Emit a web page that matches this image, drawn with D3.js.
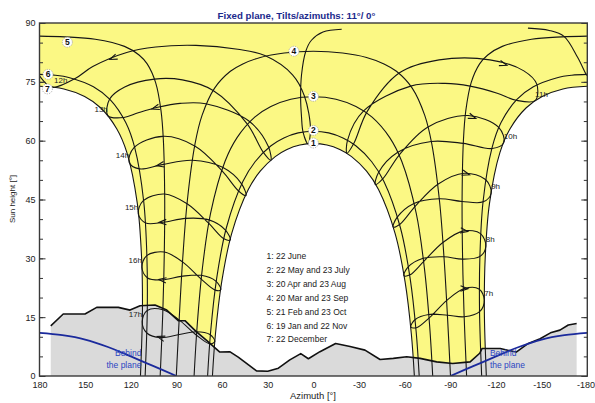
<!DOCTYPE html>
<html>
<head>
<meta charset="utf-8">
<script src="https://cdn.jsdelivr.net/npm/d3@7"></script>
<style>
  html, body { margin: 0; padding: 0; background: #fff; }
  svg { display: block; }
</style>
</head>
<body>
<svg id="chart" width="595" height="403"></svg>
<script>
// ---- Axis ticks ----
const azTicks = [180, 150, 120, 90, 60, 30, 0, -30, -60, -90, -120, -150, -180];
const heightTicks = [0, 15, 30, 45, 60, 75, 90];
const heightMinorTicks = [0, 5, 10, 15, 20, 25, 30, 35, 40, 45, 50, 55, 60, 65, 70, 75, 80, 85, 90];

// ---- Date curves: [azimuth, sun height] ----
const curve1 = [[-66.35,0],[-64.38,10.65],[-60.31,23.86],[-53.67,36.37],[-42.79,47.53],[-34.95,52.21],[-25.09,55.94],[-17.37,57.75],[-8.9,58.88],[0,59.25],[8.9,58.88],[17.37,57.75],[25.09,55.94],[34.95,52.21],[42.79,47.53],[53.67,36.37],[60.31,23.86],[64.38,10.65],[66.35,0]];
const curve2 = [[-69.53,0],[-67.52,11.34],[-63.57,24.9],[-57.14,37.86],[-46.36,49.59],[-38.32,54.63],[-27.86,58.71],[-19.43,60.69],[-10.02,61.98],[0,62.4],[10.02,61.98],[19.43,60.69],[27.86,58.71],[38.32,54.63],[46.36,49.59],[57.14,37.86],[63.57,24.9],[67.52,11.34],[69.53,0]];
const curve3 = [[-78.41,0],[-76.34,13.08],[-72.96,27.43],[-67.59,41.45],[-58.05,54.74],[-50.17,60.78],[-38.56,66.0],[-27.96,68.71],[-14.86,70.57],[0,71.2],[14.86,70.57],[27.96,68.71],[38.56,66.0],[50.17,60.78],[58.05,54.74],[67.59,41.45],[72.96,27.43],[76.34,13.08],[78.41,0]];
const curve4 = [[-90.1,0],[-88.15,14.89],[-85.91,29.75],[-82.89,44.56],[-77.77,59.23],[-73.18,66.44],[-64.93,73.4],[-54.57,77.69],[-46.4,79.57],[-34.92,81.22],[-19.19,82.35],[0,82.79],[19.19,82.35],[34.92,81.22],[46.4,79.57],[54.57,77.69],[64.93,73.4],[73.18,66.44],[77.77,59.23],[82.89,44.56],[85.91,29.75],[88.15,14.89],[90.1,0]];
const curve5West = [[180,86.65],[163.37,86.47],[143.37,85.87],[124.14,84.04],[114.58,81.85],[109.23,79.57],[103.68,74.8],[100.11,67.53],[98.6,60.19],[97.72,45.46],[98.02,30.72],[98.99,16.0],[100.69,0]];
const curve5East = [[-180,86.65],[-163.37,86.47],[-143.37,85.87],[-124.14,84.04],[-114.58,81.85],[-109.23,79.57],[-103.68,74.8],[-100.11,67.53],[-98.6,60.19],[-97.72,45.46],[-98.02,30.72],[-98.99,16.0],[-100.69,0]];
const curve6West = [[180,76.9],[169.78,76.68],[160.22,76.05],[144.55,73.73],[133.57,70.44],[123.32,64.6],[117.38,58.15],[111.53,44.57],[109.43,30.61],[109.18,16.55],[110.58,0]];
const curve6East = [[-180,76.9],[-169.78,76.68],[-160.22,76.05],[-144.55,73.73],[-133.57,70.44],[-123.32,64.6],[-117.38,58.15],[-111.53,44.57],[-109.43,30.61],[-109.18,16.55],[-110.58,0]];
const curve7West = [[180,73.86],[163.97,73.18],[150.34,71.25],[139.89,68.39],[129.26,63.05],[122.61,57.01],[115.7,43.96],[112.94,30.38],[112.35,16.62],[113.65,0]];
const curve7East = [[-180,73.86],[-163.97,73.18],[-150.34,71.25],[-139.89,68.39],[-129.26,63.05],[-122.61,57.01],[-115.7,43.96],[-112.94,30.38],[-112.35,16.62],[-113.65,0]];

// ---- Hour lines (analemmas), one point per reference date, Dec -> Nov ----
const hour07 = [[-112.3,19.4],[-109.2,16.4],[-99.1,15.1],[-88.1,15.5],[-75.8,15.7],[-66.9,14.4],[-64.0,12.5],[-67.7,12.3],[-76.3,14.9],[-87.7,19.3],[-99.2,22.3],[-108.8,22.2]];
const hour08 = [[-113.3,33.1],[-109.5,30.5],[-98.1,29.8],[-85.8,30.4],[-72.1,30.0],[-62.3,27.8],[-59.5,25.6],[-63.5,25.8],[-72.7,29.3],[-85.3,34.1],[-98.7,37.0],[-109.8,36.3]];
const hour09 = [[-116.8,46.6],[-111.6,44.4],[-97.7,44.5],[-82.7,45.2],[-66.1,44.0],[-55.1,40.5],[-52.4,38.0],[-56.9,38.7],[-67.0,43.3],[-81.8,48.9],[-99.1,51.7],[-113.1,50.1]];
const hour10 = [[-125.1,59.5],[-117.5,58.0],[-98.5,59.3],[-77.4,59.8],[-55.2,57.0],[-42.8,51.9],[-40.7,48.8],[-45.7,50.3],[-56.5,56.4],[-75.3,63.5],[-101.7,66.4],[-121.8,63.4]];
const hour11 = [[-145.7,70.2],[-133.3,70.3],[-120.8,72.1],[-103.0,73.9],[-86.5,74.6],[-63.9,73.9],[-33.0,67.6],[-22.4,60.1],[-22.1,56.8],[-26.7,59.4],[-35.3,67.4],[-56.6,77.3],[-82.6,80.6],[-116.0,80.6],[-138.3,77.8],[-146.8,74.4]];
const hour12West = [[-18.6,88.4],[-6.3,87.7],[1.3,85.6],[5.0,82.8],[7.8,76.8],[8.4,71.0],[7.8,66.0],[6.8,62.2],[3.6,59.2],[1.9,62.7],[5.9,71.4],[13.7,76.8],[31.9,81.7],[49.7,83.3],[77.2,84.3],[103.6,83.9],[122.7,82.5],[145.0,78.9],[156.3,75.9],[170.4,73.6],[174.6,74.2],[177.5,75.3],[180,76.5]];
const hour12East = [[-180,76.6],[-179.3,76.9],[-173.7,81.2],[-164.7,86.6],[-155.0,88.1],[-141.0,88.7]];
const hour13 = [[135.1,66.4],[133.9,70.6],[124.0,73.7],[104.4,75.7],[86.1,75.5],[65.9,72.8],[43.4,64.2],[32.9,57.0],[28.0,55.0],[29.6,58.5],[42.4,65.0],[70.7,69.4],[87.6,69.5],[102.3,68.5],[115.1,67.1],[124.5,65.9]];
const hour14 = [[121.1,54.5],[117.9,58.2],[98.9,61.1],[77.7,58.6],[60.0,52.3],[49.0,47.1],[44.3,46.0],[47.2,49.0],[59.7,53.2],[79.6,55.0],[99.3,53.9],[114.3,52.8]];
const hour15 = [[115.1,41.3],[111.8,44.7],[97.8,46.4],[83.0,43.9],[68.7,38.9],[58.8,35.0],[54.6,34.7],[57.8,37.2],[68.6,39.8],[84.0,40.2],[98.7,39.2],[110.2,39.0]];
const hour16 = [[112.7,27.7],[109.5,30.7],[98.0,31.6],[86.0,29.1],[73.7,24.7],[64.5,21.9],[60.9,22.0],[64.1,24.2],[73.8,25.7],[86.7,25.4],[99.2,24.5],[109.0,25.0]];
const hour17 = [[112.5,13.9],[109.2,16.7],[98.9,16.9],[88.3,14.3],[76.8,10.4],[68.1,8.2],[64.8,8.8],[68.0,10.6],[77.0,11.3],[88.9,10.5],[100.3,9.8],[109.3,10.9]];

// ---- Far horizon profile ----
const horizonAz = [172.6,164.4,150.1,142.4,128.2,120.5,113.9,104.1,96.4,88.8,84.4,77.0,70.2,61.5,55.0,49.4,37.4,30.0,23.0,15.5,8.3,3.3,-4.3,-14.6,-24.1,-33.9,-43.8,-52.5,-61.3,-70.1,-81.0,-91.5,-103.0,-109.3,-110.8,-122.8,-133.3,-141.2,-149.0,-155.8,-162.0,-167.5,-173.0];
const horizonH  = [12.8,15.8,15.8,17.5,17.5,16.8,17.9,18.1,16.8,14.1,14.1,11.3,9.1,6.1,6.2,4.8,1.3,1.2,2.0,4.1,5.7,4.4,6.2,8.3,7.5,6.6,4.2,4.5,4.9,4.5,3.6,3.2,3.6,5.8,7.0,7.0,6.1,8.3,9.5,11.0,11.7,13.0,13.4];

// ---- Plane limit (sun behind the tilted plane) ----
const planeWest = [[180,11.0],[165,10.4],[150,9.3],[135,7.4],[120,5.0],[105,2.5],[90,0]];
const planeEast = [[-90,0],[-105,2.5],[-120,5.0],[-135,7.4],[-150,9.3],[-165,10.4],[-180,11.0]];

// ---- Labels ----
const dateNumbers = ["1","2","3","4","5","6","7"];
const dateLabelAz = [0, 0, 0, 12.8, 161.7, 174.4, 174.8];
const dateLabelH  = [59.4, 62.6, 71.3, 82.8, 85.1, 76.9, 73.2];
const dateNames = ["1: 22 June", "2: 22 May and 23 July", "3: 20 Apr and 23 Aug", "4: 20 Mar and 23 Sep", "5: 21 Feb and 23 Oct", "6: 19 Jan and 22 Nov", "7: 22 December"];

// ---------------------------------------------------------------
const FONT = "'Liberation Sans', Arial, Helvetica, sans-serif";
const X0 = 39.5, X1 = 587.3, Y0 = 23, Y1 = 376;
const x = d3.scaleLinear().domain([180, -180]).range([X0, X1]);
const y = d3.scaleLinear().domain([0, 90]).range([Y1, Y0]);

const svg = d3.select("#chart");
svg.append("rect").attr("width", 595).attr("height", 403).attr("fill", "#fff");

svg.append("defs").append("clipPath").attr("id", "plotArea")
  .append("rect").attr("x", X0).attr("y", Y0).attr("width", X1 - X0).attr("height", Y1 - Y0);

const plot = svg.append("g").attr("clip-path", "url(#plotArea)");

const smooth = d3.line().x(d => x(d[0])).y(d => y(d[1])).curve(d3.curveCatmullRom.alpha(0.5));
const smoothLoop = d3.line().x(d => x(d[0])).y(d => y(d[1])).curve(d3.curveCatmullRomClosed.alpha(0.5));
const straight = d3.line().x(d => x(d[0])).y(d => y(d[1]));

// Yearly sun band: above the 22 Dec path and outside the 22 June path
const cont = pts => smooth(pts).replace(/^M/, "L");
const bandPath = "M" + x(180) + "," + y(90)
  + cont(curve7West)
  + cont(curve1.slice().reverse())
  + cont(curve7East.slice().reverse())
  + "L" + x(-180) + "," + y(90) + "Z";
plot.append("path").attr("d", bandPath).attr("fill", "#fbf884").attr("stroke", "none");

// Horizon mask
const horizonPts = horizonAz.map((a, i) => [a, horizonH[i]]);
const maskPts = [[horizonAz[0], 0]].concat(horizonPts, [[horizonAz[horizonAz.length - 1], 0]]);
plot.append("path").attr("d", straight(maskPts) + "Z").attr("fill", "#dadada").attr("stroke", "none");

// Date curves
const dateCurves = [curve1, curve2, curve3, curve4, curve5West, curve5East, curve6West, curve6East, curve7West, curve7East];
plot.selectAll("path.date").data(dateCurves).join("path")
  .attr("class", "date")
  .attr("d", smooth)
  .attr("fill", "none").attr("stroke", "#161616").attr("stroke-width", 1.1);

// Hour lines
const hourSeries = [
  { name: "7h",  pts: hour07, closed: true, arrowIdx: 10, arrowT: 0.25, labelIdx: 0, anchor: "start" },
  { name: "8h",  pts: hour08, closed: true, arrowIdx: 10, arrowT: 0.25, labelIdx: 0, anchor: "start" },
  { name: "9h",  pts: hour09, closed: true, arrowIdx: 10, arrowT: 0.25, labelIdx: 0, anchor: "start" },
  { name: "10h", pts: hour10, closed: true, arrowIdx: 10, arrowT: 0.25, labelIdx: 0, anchor: "start" },
  { name: "11h", pts: hour11, closed: true, arrowIdx: 13, arrowT: 0.5,  labelIdx: 0, anchor: "start" },
  { name: "12h", pts: hour12West, closed: false, arrowIdx: 16, arrowT: 0.5, labelIdx: 19, anchor: "start" },
  { name: "13h", pts: hour13, closed: true, arrowIdx: 13, arrowT: 0.3,  labelIdx: 0, anchor: "end" },
  { name: "14h", pts: hour14, closed: true, arrowIdx: 10, arrowT: 0.25, labelIdx: 0, anchor: "end" },
  { name: "15h", pts: hour15, closed: true, arrowIdx: 10, arrowT: 0.25, labelIdx: 0, anchor: "end" },
  { name: "16h", pts: hour16, closed: true, arrowIdx: 10, arrowT: 0.25, labelIdx: 0, anchor: "end" },
  { name: "17h", pts: hour17, closed: true, arrowIdx: 10, arrowT: 0.25, labelIdx: 0, anchor: "end" }
];

plot.selectAll("path.hour").data(hourSeries).join("path")
  .attr("class", "hour")
  .attr("d", s => s.closed ? smoothLoop(s.pts) : smooth(s.pts))
  .attr("fill", "none").attr("stroke", "#161616").attr("stroke-width", 1.1);
plot.append("path").attr("d", smooth(hour12East))
  .attr("fill", "none").attr("stroke", "#161616").attr("stroke-width", 1.1);

// Direction arrows along the hour lines
function arrowPath(s) {
  const n = s.pts.length;
  const a = s.pts[s.arrowIdx], b = s.pts[(s.arrowIdx + 1) % n];
  const ax = x(a[0]), ay = y(a[1]), bx = x(b[0]), by = y(b[1]);
  const px = ax + s.arrowT * (bx - ax), py = ay + s.arrowT * (by - ay);
  const len = Math.hypot(bx - ax, by - ay);
  const ux = (bx - ax) / len, uy = (by - ay) / len;
  const L = 8, ang = 20 * Math.PI / 180, c = Math.cos(ang), sn = Math.sin(ang);
  const b1 = [px - L * (ux * c - uy * sn), py - L * (uy * c + ux * sn)];
  const b2 = [px - L * (ux * c + uy * sn), py - L * (uy * c - ux * sn)];
  return `M${b1[0]},${b1[1]}L${px},${py}L${b2[0]},${b2[1]}`;
}
plot.selectAll("path.arrow").data(hourSeries).join("path")
  .attr("class", "arrow")
  .attr("d", arrowPath)
  .attr("fill", "none").attr("stroke", "#161616").attr("stroke-width", 1.1);

// Horizon line
plot.append("path").attr("d", straight(horizonPts))
  .attr("fill", "none").attr("stroke", "#111").attr("stroke-width", 1.6).attr("stroke-linejoin", "round");

// Plane limit
[planeWest, planeEast].forEach(p => {
  plot.append("path").attr("d", smooth(p))
    .attr("fill", "none").attr("stroke", "#1b2a9c").attr("stroke-width", 1.8);
});

// Hour labels, next to the 22 December point of each hour line
svg.append("g").selectAll("text").data(hourSeries).join("text")
  .attr("x", s => x(s.pts[s.labelIdx][0]))
  .attr("y", s => y(s.pts[s.labelIdx][1]) - 4)
  .attr("text-anchor", s => s.anchor)
  .attr("font-family", FONT).attr("font-size", 8).attr("fill", "#222")
  .text(s => s.name);

// Date curve markers
const marks = svg.append("g");
dateNumbers.forEach((t, i) => {
  const cx = x(dateLabelAz[i]), cy = y(dateLabelH[i]);
  marks.append("circle").attr("cx", cx).attr("cy", cy).attr("r", 5)
    .attr("fill", "#fff").attr("stroke", "#9a9a9a").attr("stroke-width", 0.8).attr("stroke-dasharray", "1.2,1.2");
  marks.append("text").attr("x", cx).attr("y", cy + 3).attr("text-anchor", "middle")
    .attr("font-family", FONT).attr("font-size", 8.5).attr("font-weight", "bold").attr("fill", "#111")
    .text(t);
});

// Legend of dates
svg.append("g").selectAll("text").data(dateNames).join("text")
  .attr("x", 266.5).attr("y", (d, i) => 259 + i * 13.9)
  .attr("font-family", FONT).attr("font-size", 8.5).attr("fill", "#1a1a1a")
  .text(d => d);

// "Behind the plane" notes
const noteColor = "#2a45c2";
svg.append("text").attr("x", x(113)).attr("y", 356).attr("text-anchor", "end")
  .attr("font-family", FONT).attr("font-size", 8.5).attr("fill", noteColor).text("Behind");
svg.append("text").attr("x", x(113)).attr("y", 367.5).attr("text-anchor", "end")
  .attr("font-family", FONT).attr("font-size", 8.5).attr("fill", noteColor).text("the plane");
svg.append("text").attr("x", x(-116)).attr("y", 356).attr("text-anchor", "start")
  .attr("font-family", FONT).attr("font-size", 8.5).attr("fill", noteColor).text("Behind");
svg.append("text").attr("x", x(-116)).attr("y", 367.5).attr("text-anchor", "start")
  .attr("font-family", FONT).attr("font-size", 8.5).attr("fill", noteColor).text("the plane");

// Axes
function styleAxis(g) {
  g.select(".domain").remove();
  g.selectAll("line").attr("stroke", "#333").attr("stroke-width", 1);
  g.selectAll("text").attr("font-family", FONT).attr("font-size", 9).attr("fill", "#222");
}
svg.append("g").attr("transform", `translate(${X0},0)`)
  .call(d3.axisLeft(y).tickValues(heightMinorTicks).tickSizeInner(-3.5).tickSizeOuter(0).tickFormat(""))
  .call(styleAxis);
svg.append("g").attr("transform", `translate(${X0},0)`)
  .call(d3.axisLeft(y).tickValues(heightTicks).tickSizeInner(-6).tickSizeOuter(0).tickPadding(4))
  .call(styleAxis);
svg.append("g").attr("transform", `translate(${X1},0)`)
  .call(d3.axisRight(y).tickValues(heightMinorTicks).tickSizeInner(-3.5).tickSizeOuter(0).tickFormat(""))
  .call(styleAxis);
svg.append("g").attr("transform", `translate(${X1},0)`)
  .call(d3.axisRight(y).tickValues(heightTicks).tickSizeInner(-6).tickSizeOuter(0).tickFormat(""))
  .call(styleAxis);
const bottomAxis = svg.append("g").attr("transform", `translate(0,${Y1})`)
  .call(d3.axisBottom(x).tickValues(azTicks).tickSize(0).tickPadding(5.5).tickFormat(d => String(d)))
  .call(styleAxis);
// keep the last azimuth label inside the page
bottomAxis.selectAll(".tick text").filter(d => d === -180)
  .attr("text-anchor", "end").attr("x", 7.2);

// Frame
svg.append("rect").attr("x", X0).attr("y", Y0).attr("width", X1 - X0).attr("height", Y1 - Y0)
  .attr("fill", "none").attr("stroke", "#3a3a3a").attr("stroke-width", 1.4);

// Titles
svg.append("text").attr("x", 296.5).attr("y", 18.5).attr("text-anchor", "middle")
  .attr("font-family", FONT).attr("font-size", 9.7).attr("font-weight", "bold").attr("fill", "#1b2a8c")
  .text("Fixed plane, Tilts/azimuths: 11°/ 0°");
svg.append("text").attr("x", 313).attr("y", 399).attr("text-anchor", "middle")
  .attr("font-family", FONT).attr("font-size", 9.5).attr("fill", "#222")
  .text("Azimuth [°]");
svg.append("text").attr("transform", "translate(15,199) rotate(-90)").attr("text-anchor", "middle")
  .attr("font-family", FONT).attr("font-size", 8).attr("fill", "#222")
  .text("Sun height [°]");
</script>
</body>
</html>
